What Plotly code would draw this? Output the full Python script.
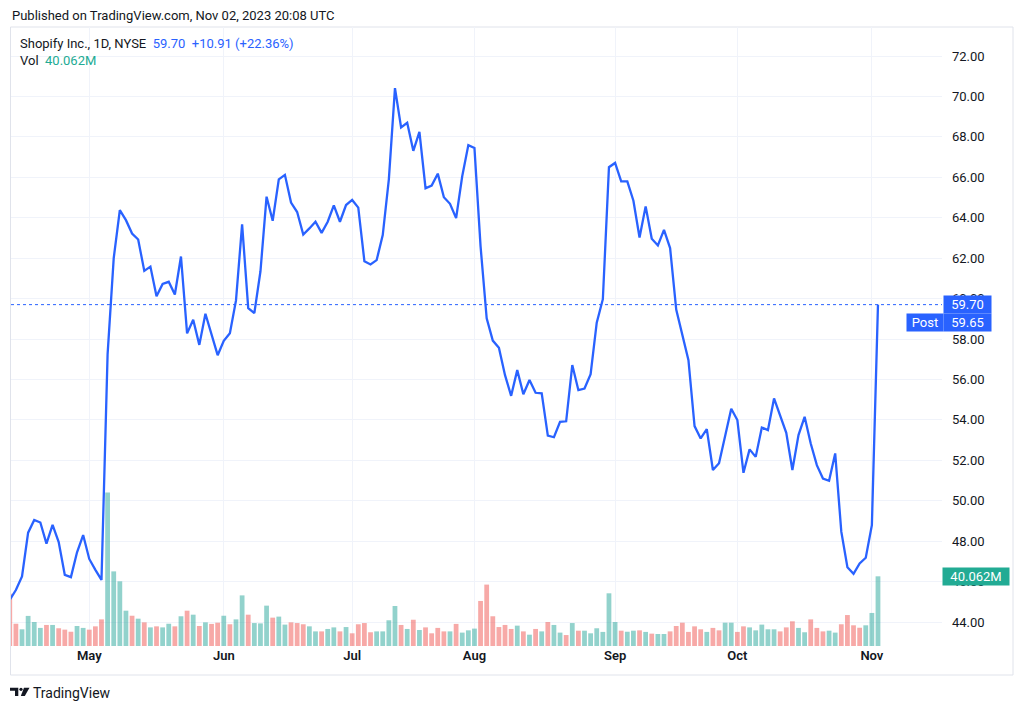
import pandas as pd
import plotly.graph_objects as go

# daily closes, Apr 12 - Nov 02 2023
close = [45.10, 45.58, 46.25, 48.42, 49.05, 48.92, 47.88, 48.80, 47.95, 46.33,
         46.22, 47.45, 48.30, 47.12, 46.58, 46.08, 57.25, 62.00, 64.38, 63.88,
         63.22, 62.92, 61.37, 61.58, 60.12, 60.72, 60.83, 60.20, 62.08, 58.28,
         58.95, 57.71, 59.25, 58.25, 57.20, 57.91, 58.29, 59.91, 63.67, 59.53,
         59.28, 61.35, 65.04, 63.85, 65.90, 66.12, 64.75, 64.28, 63.17, 63.47,
         63.80, 63.25, 63.80, 64.61, 63.80, 64.63, 64.88, 64.50, 61.85, 61.69,
         61.90, 63.14, 65.90, 70.41, 68.47, 68.70, 67.31, 68.25, 65.46, 65.59,
         66.18, 65.01, 64.69, 63.98, 66.05, 67.59, 67.45, 62.58, 59.02, 57.92,
         57.57, 56.21, 55.19, 56.46, 55.27, 55.97, 55.34, 55.31, 53.22, 53.14,
         53.90, 53.93, 56.71, 55.47, 55.55, 56.26, 58.81, 59.97, 66.50, 66.71,
         65.80, 65.80, 64.84, 63.02, 64.56, 62.96, 62.63, 63.40, 62.50, 59.46,
         58.27, 56.95, 53.69, 53.08, 53.54, 51.52, 51.85, 53.16, 54.55, 53.99,
         51.38, 52.54, 52.17, 53.62, 53.49, 55.06, 54.23, 53.36, 51.52, 53.25,
         54.15, 52.83, 51.76, 51.10, 50.99, 52.34, 48.47, 46.71, 46.38, 46.90,
         47.18, 48.79, 59.70]

# volume in millions
volume = [30.1, 12.8, 9.6, 17.3, 13.8, 10.4, 12.1, 12.1, 10.2, 9.4,
          8.2, 11.5, 10.4, 9.4, 11.3, 15.3, 88.2, 42.9, 37.2, 20.3,
          17.4, 15.7, 13.6, 10.7, 11.3, 10.7, 12.8, 11.3, 17.1, 20.3,
          18.0, 11.5, 13.6, 12.7, 13.4, 17.4, 12.5, 15.3, 29.1, 18.0,
          13.2, 13.0, 23.2, 16.3, 16.9, 12.3, 13.6, 13.2, 12.5, 11.3,
          8.4, 8.4, 9.8, 10.7, 8.4, 10.9, 7.3, 12.5, 13.2, 7.9,
          8.4, 8.4, 14.8, 23.0, 12.1, 9.8, 15.1, 9.2, 10.7, 7.3,
          10.4, 8.4, 8.4, 12.7, 7.7, 9.0, 10.0, 25.9, 35.3, 17.1,
          10.9, 12.1, 9.8, 11.7, 8.4, 6.5, 9.8, 8.4, 13.8, 12.1,
          7.7, 6.3, 13.2, 8.8, 8.8, 7.3, 10.2, 8.1, 30.3, 13.8,
          8.8, 8.2, 8.8, 9.0, 8.1, 7.1, 6.9, 6.9, 8.4, 11.5,
          13.4, 8.1, 11.3, 9.6, 8.1, 10.4, 9.0, 13.4, 13.4, 8.1,
          11.3, 10.7, 9.0, 12.3, 9.6, 9.6, 8.4, 10.7, 14.2, 10.4,
          7.9, 15.3, 10.4, 8.4, 8.8, 7.7, 12.5, 17.8, 11.9, 10.5,
          11.9, 19.0, 40.062]

# G = up day, R = down day (volume bar colour)
direction = ("RRGGGGRGRR" "RGGRRRGGGG" "RGRGRGGRGR" "GRGRRGRGGR" "GGGRGGRRRG"
             "GRGGRGRRRR" "GGGGRGRGRR" "RRGRGGGRRR" "RRRGRGRGRG" "GRGRGGGGGG"
             "RGGRGRGGRR" "RRRRGRRGGR" "RGGGGGRRRG" "GRRRGGRRRR" "GGG")

holidays = ["2023-05-29", "2023-06-19", "2023-07-04", "2023-09-04"]
dates = pd.bdate_range("2023-04-12", "2023-11-02", freq="C", holidays=holidays)
idx = list(range(len(close)))

tick_idx = [i for i in range(1, len(dates)) if dates[i].month != dates[i - 1].month]
tick_txt = [dates[i].strftime("%b") for i in tick_idx]

last_price = 59.70
post_price = 59.65

BLUE = "#2962ff"
TEAL = "#22ab94"
TXT = "#131722"
GRID = "#f0f3fa"
FONT = "Roboto, 'Noto Sans', sans-serif"

W, H = 1024, 711
L, R, T, B = 11, 82, 27, 65
pw, ph = W - L - R, H - T - B


def px(x):
    return (x - L) / pw


def py(y):
    return (H - B - y) / ph


bar_colors = ["rgba(38,166,154,0.5)" if d == "G" else "rgba(239,83,80,0.5)" for d in direction]

fig = go.Figure()
fig.add_trace(go.Bar(x=idx, y=volume, marker=dict(color=bar_colors, line_width=0),
                     width=0.78, yaxis="y", hoverinfo="skip"))
fig.add_trace(go.Scatter(x=idx, y=close, mode="lines", yaxis="y2",
                         line=dict(color=BLUE, width=2.3)))

fig.update_layout(
    width=W, height=H,
    margin=dict(l=L, r=R, t=T, b=B),
    paper_bgcolor="white", plot_bgcolor="white",
    showlegend=False,
    font=dict(family=FONT, color=TXT, size=13),
    xaxis=dict(range=[0.2, 152.47], tickvals=tick_idx, ticktext=tick_txt,
               showgrid=True, gridcolor=GRID, zeroline=False, showline=False,
               ticks="", tickfont=dict(size=13, weight=600, color=TXT)),
    yaxis=dict(range=[0, 355.9], visible=False, showgrid=False),
    yaxis2=dict(overlaying="y", side="right", range=[42.813, 73.435],
                tick0=0, dtick=2, tickformat=".2f", showgrid=True, gridcolor=GRID,
                zeroline=False, showline=False, ticks="", ticklabelstandoff=9,
                tickfont=dict(size=13, color=TXT)),
)

shapes = [
    dict(type="rect", xref="paper", yref="paper", x0=px(10.5), x1=px(1013),
         y0=py(675), y1=py(27), line=dict(color="#e0e3eb", width=1), layer="below"),
    dict(type="line", xref="paper", yref="y2", x0=0, x1=1, y0=last_price, y1=last_price,
         line=dict(color=BLUE, width=1, dash="dot")),
    # TradingView logo
    dict(type="path", xref="paper", yref="paper", fillcolor=TXT, line_width=0,
         path="M {} {} L {} {} L {} {} L {} {} L {} {} L {} {} Z".format(
             px(10), py(687.7), px(18.3), py(687.7), px(18.3), py(696),
             px(15), py(696), px(15), py(690.7), px(10), py(690.7))),
    dict(type="circle", xref="paper", yref="paper", fillcolor=TXT, line_width=0,
         x0=px(19.4), x1=px(22.6), y0=py(690.9), y1=py(687.7)),
    dict(type="path", xref="paper", yref="paper", fillcolor=TXT, line_width=0,
         path="M {} {} L {} {} L {} {} L {} {} Z".format(
             px(24), py(687.7), px(29.5), py(687.7), px(24.8), py(696), px(20.8), py(696))),
]

annotations = [
    dict(x=px(10), y=py(16), text="Published on TradingView.com, Nov 02, 2023 20:08 UTC",
         font=dict(size=13, color=TXT)),
    dict(x=px(18), y=py(44),
         text="Shopify Inc., 1D, NYSE\u00a0\u00a0<span style='color:%s'>%.2f\u00a0\u00a0+10.91 (+22.36%%)</span>"
              % (BLUE, last_price),
         font=dict(size=13, color=TXT)),
    dict(x=px(18), y=py(61),
         text="Vol\u00a0\u00a0<span style='color:%s'>%.3fM</span>" % (TEAL, volume[-1]),
         font=dict(size=13, color=TXT)),
    dict(x=px(942.7), y=py(304.5), text="%.2f" % last_price, bgcolor=BLUE,
         font=dict(size=13, color="white"), width=45, height=15, borderpad=1),
    dict(x=px(942.7), y=py(322), text="%.2f" % post_price, bgcolor=BLUE,
         font=dict(size=13, color="white"), width=45, height=15, borderpad=1),
    dict(x=px(905.7), y=py(322), text="Post", bgcolor=BLUE,
         font=dict(size=13, color="white"), width=34, height=15, borderpad=1),
    dict(x=px(942.3), y=py(576), text="%.3fM" % volume[-1], bgcolor=TEAL,
         font=dict(size=13, color="white"), width=64, height=15, borderpad=1),
    dict(x=px(31), y=py(692.5), text="TradingView", font=dict(size=14, color=TXT)),
]
for a in annotations:
    a.update(xref="paper", yref="paper", xanchor="left", yanchor="middle", showarrow=False)

fig.update_layout(shapes=shapes, annotations=annotations)

fig.write_html("out.html", config={"displayModeBar": False},
               post_script="document.body.style.margin='0';")
